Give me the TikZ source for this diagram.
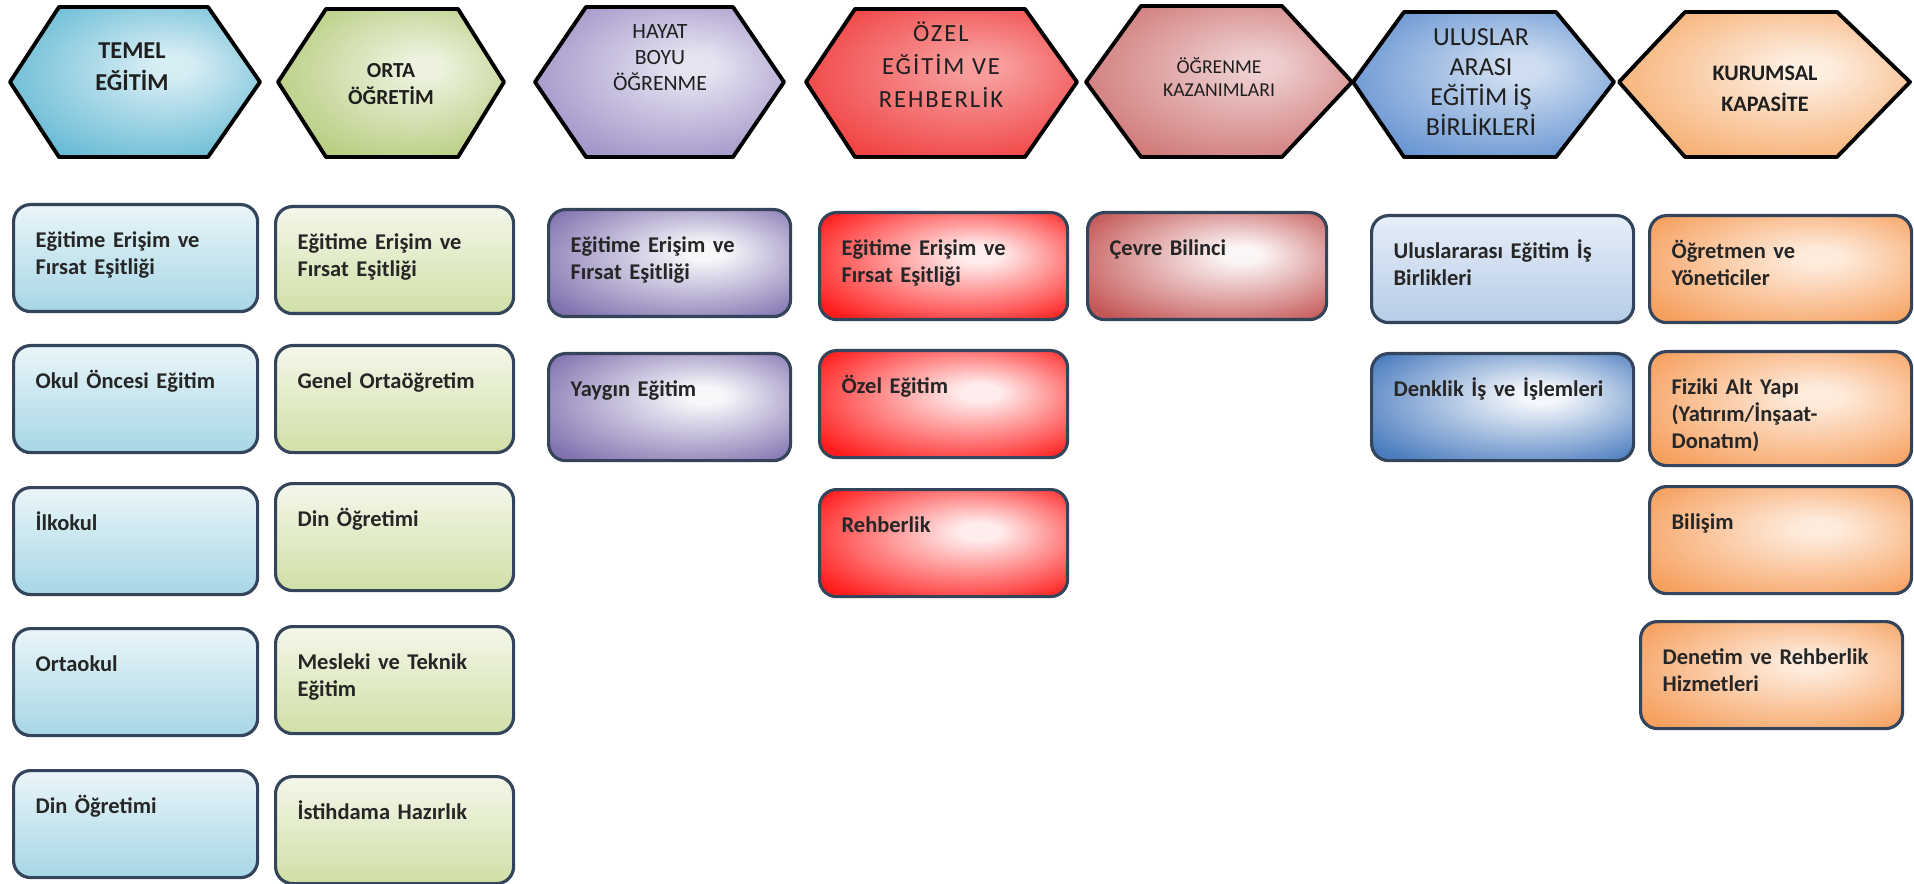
\documentclass[tikz,border=0pt]{standalone}
\usepackage{fontspec}
\setmainfont{Carlito}
\usepackage{tikz}

\definecolor{kenar}{HTML}{34445A}
\definecolor{temelA}{HTML}{EAF5F9}
\definecolor{temelB}{HTML}{A6D6E5}
\definecolor{temelH}{HTML}{5CB6D2}
\definecolor{ortaA}{HTML}{F4F7EA}
\definecolor{ortaB}{HTML}{D0DFA6}
\definecolor{ortaH}{HTML}{B2C976}
\definecolor{hayatB}{HTML}{8273B0}
\definecolor{hayatH}{HTML}{9A8CC4}
\definecolor{ozelB}{HTML}{FF1C1C}
\definecolor{ozelH}{HTML}{F03A3A}
\definecolor{kazB}{HTML}{C45656}
\definecolor{kazH}{HTML}{CD7070}
\definecolor{ulusA}{HTML}{E6EEF8}
\definecolor{ulusB}{HTML}{B6CCE7}
\definecolor{ulusC}{HTML}{4A7CBF}
\definecolor{ulusH}{HTML}{5D8ECF}
\definecolor{kurumA}{HTML}{FEEBDC}
\definecolor{kurumB}{HTML}{F6A05E}
\definecolor{kurumH}{HTML}{F6A866}
\colorlet{kutuic}{white}
\colorlet{kutudis}{gray}
\pgfdeclareradialshading[kutuic,kutudis]{yumusak}{\pgfpoint{8bp}{6bp}}{%
  color(0bp)=(kutuic); color(4bp)=(kutuic); color(34bp)=(kutudis); color(50bp)=(kutudis)}

\begin{document}
\begin{tikzpicture}[
    yumusak/.style 2 args={shade, shading=yumusak, /utils/exec={\colorlet{kutuic}{#1}\colorlet{kutudis}{#2}}},
    hex/.style={draw=black, line width=1.1pt, line join=round},
    hexyazi/.style={align=center, inner sep=0pt, text=black!88},
    kutu/.style={draw=kenar, line width=0.9pt, rounded corners=0.17cm, anchor=north west,
      align=left, inner xsep=0.22cm, inner ysep=0.1cm, text height=0.33cm, text depth=0.54cm,
      font=\fontsize{6.4}{7.7}\selectfont\bfseries, text=black!85},
    temelkutu/.style={kutu, text width=2.00cm, top color=temelA, bottom color=temelB},
    ortakutu/.style={kutu, text width=1.94cm, top color=ortaA, bottom color=ortaB},
    hayatkutu/.style={kutu, text width=1.98cm, yumusak={hayatB!6}{hayatB}},
    ozelkutu/.style={kutu, text width=2.04cm, yumusak={ozelB!8}{ozelB}},
    kazkutu/.style={kutu, text width=1.95cm, yumusak={kazB!6}{kazB}},
    ulusAkutu/.style={kutu, text width=2.18cm, top color=ulusA, bottom color=ulusB},
    ulusBkutu/.style={kutu, text width=2.18cm, yumusak={ulusC!6}{ulusC}},
    kurumkutu/.style={kutu, text width=2.18cm, yumusak={kurumA}{kurumB}},
  ]
    \fill[white] (0,0) rectangle (19.14,-8.84);
    \useasboundingbox (0,0) rectangle (19.14,-8.84);
    % Temel egitim
    \begin{scope}[xshift=0.10cm]
      \path[hex, yumusak={temelH!25}{temelH}] (0,-0.82) -- (0.49,-0.07) -- (1.98,-0.07)
        -- (2.50,-0.82) -- (1.98,-1.57) -- (0.49,-1.57) -- cycle;
      \node[hexyazi, font=\fontsize{6.9}{9}\selectfont\bfseries] (temel) at (1.22,-0.67) {TEMEL\\EĞİTİM};
      \node[temelkutu] (temel1) at (0.02,-2.03) {Eğitime Erişim ve\\Fırsat Eşitliği};
      \node[temelkutu] (temel2) at (0.02,-3.44) {Okul Öncesi Eğitim};
      \node[temelkutu] (temel3) at (0.02,-4.86) {İlkokul};
      \node[temelkutu] (temel4) at (0.02,-6.27) {Ortaokul};
      \node[temelkutu] (temel5) at (0.02,-7.69) {Din Öğretimi};
    \end{scope}
    % Orta ogretim
    \begin{scope}[xshift=2.78cm]
      \path[hex, yumusak={ortaH!25}{ortaH}] (0,-0.82) -- (0.48,-0.09) -- (1.80,-0.09)
        -- (2.26,-0.82) -- (1.80,-1.57) -- (0.48,-1.57) -- cycle;
      \node[hexyazi, font=\fontsize{6.1}{7.6}\selectfont\bfseries] (orta) at (1.13,-0.84) {ORTA\\ÖĞRETİM};
      \node[ortakutu] (orta1) at (-0.04,-2.05) {Eğitime Erişim ve\\Fırsat Eşitliği};
      \node[ortakutu] (orta2) at (-0.04,-3.44) {Genel Ortaöğretim};
      \node[ortakutu] (orta3) at (-0.04,-4.82) {Din Öğretimi};
      \node[ortakutu] (orta4) at (-0.04,-6.25) {Mesleki ve Teknik\\Eğitim};
      \node[ortakutu] (orta5) at (-0.04,-7.75) {İstihdama Hazırlık};
    \end{scope}
    % Hayat boyu ogrenme
    \begin{scope}[xshift=5.35cm]
      \path[hex, yumusak={hayatH!25}{hayatH}] (0,-0.82) -- (0.51,-0.07) -- (1.98,-0.07)
        -- (2.49,-0.82) -- (1.98,-1.57) -- (0.51,-1.57) -- cycle;
      \node[hexyazi, font=\fontsize{6.2}{7.4}\selectfont] (hayat) at (1.25,-0.58) {HAYAT\\BOYU\\ÖĞRENME};
      \node[hayatkutu] (hayat1) at (0.12,-2.08) {Eğitime Erişim ve\\Fırsat Eşitliği};
      \node[hayatkutu] (hayat2) at (0.12,-3.52) {Yaygın Eğitim};
    \end{scope}
    % Ozel egitim ve rehberlik
    \begin{scope}[xshift=8.06cm]
      \path[hex, yumusak={ozelH!50}{ozelH}] (0,-0.82) -- (0.49,-0.09) -- (2.19,-0.09)
        -- (2.71,-0.82) -- (2.19,-1.57) -- (0.49,-1.57) -- cycle;
      \node[hexyazi, font=\fontsize{7}{9.4}\selectfont\addfontfeatures{LetterSpace=8}] (ozel) at (1.35,-0.65)
        {ÖZEL\\EĞİTİM VE\\REHBERLİK};
      \node[ozelkutu] (ozel1) at (0.12,-2.11) {Eğitime Erişim ve\\Fırsat Eşitliği};
      \node[ozelkutu] (ozel2) at (0.12,-3.49) {Özel Eğitim};
      \node[ozelkutu] (ozel3) at (0.12,-4.88) {Rehberlik};
    \end{scope}
    % Ogrenme kazanimlari
    \begin{scope}[xshift=10.86cm]
      \path[hex, yumusak={kazH!35}{kazH}] (0,-0.82) -- (0.55,-0.06) -- (1.96,-0.06)
        -- (2.66,-0.82) -- (1.96,-1.57) -- (0.55,-1.57) -- cycle;
      \node[hexyazi, font=\fontsize{5.6}{6.4}\selectfont] (kazanim) at (1.33,-0.77) {ÖĞRENME\\KAZANIMLARI};
      \node[kazkutu] (kazanim1) at (0,-2.11) {Çevre Bilinci};
    \end{scope}
    % Uluslararasi egitim is birlikleri
    \begin{scope}[xshift=13.53cm]
      \path[hex, yumusak={ulusH!30}{ulusH}] (0,-0.82) -- (0.51,-0.12) -- (2.03,-0.12)
        -- (2.61,-0.82) -- (2.03,-1.57) -- (0.51,-1.57) -- cycle;
      \node[hexyazi, font=\fontsize{7.4}{8.6}\selectfont] (ulus) at (1.28,-0.82)
        {ULUSLAR\\ARASI\\EĞİTİM İŞ\\BİRLİKLERİ};
      \node[ulusAkutu] (ulus1) at (0.17,-2.14) {Uluslararası Eğitim İş\\Birlikleri};
      \node[ulusBkutu] (ulus2) at (0.17,-3.52) {Denklik İş ve İşlemleri};
    \end{scope}
    % Kurumsal kapasite
    \begin{scope}[xshift=16.19cm]
      \path[hex, yumusak={kurumH!20}{kurumH}] (0,-0.82) -- (0.66,-0.12) -- (2.18,-0.12)
        -- (2.91,-0.82) -- (2.18,-1.57) -- (0.66,-1.57) -- cycle;
      \node[hexyazi, font=\fontsize{6.3}{9}\selectfont\bfseries] (kurum) at (1.46,-0.89) {KURUMSAL\\KAPASİTE};
      \node[kurumkutu] (kurum1) at (0.29,-2.14) {Öğretmen ve\\Yöneticiler};
      \node[kurumkutu, text depth=0.61cm] (kurum2) at (0.29,-3.50) {Fiziki Alt Yapı\\(Yatırım/İnşaat-\\Donatım)};
      \node[kurumkutu] (kurum3) at (0.29,-4.85) {Bilişim};
      \node[kurumkutu] (kurum4) at (0.20,-6.20) {Denetim ve Rehberlik\\Hizmetleri};
    \end{scope}
\end{tikzpicture}
\end{document}
